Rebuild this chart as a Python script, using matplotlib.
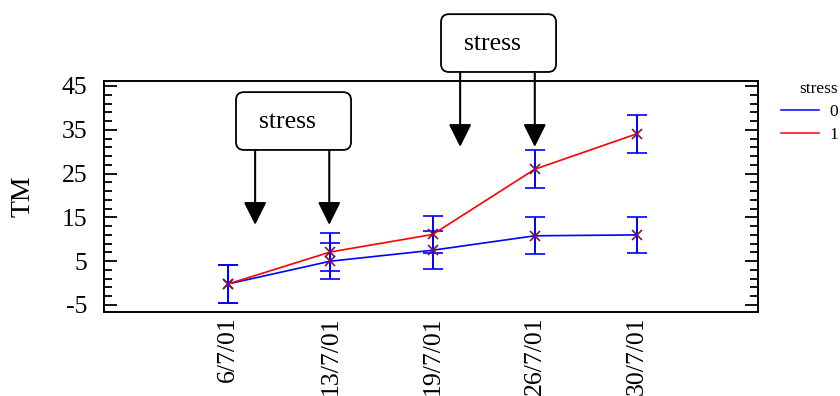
import numpy as np
import matplotlib
matplotlib.use("Agg")
import matplotlib.pyplot as plt
from matplotlib.lines import Line2D
from matplotlib.patches import FancyBboxPatch
from matplotlib.ticker import FixedLocator, MultipleLocator

plt.rcParams['font.family'] = ['Liberation Serif', 'DejaVu Serif']
plt.rcParams['axes.unicode_minus'] = False

# --- datos ---
fechas = ['6/7/01', '13/7/01', '19/7/01', '26/7/01', '30/7/01']
tm_stress0 = [-0.2, 5.0, 7.5, 10.8, 11.0]
err_stress0 = [4.4, 4.1, 4.3, 4.2, 4.2]
tm_stress1 = [-0.2, 7.1, 11.1, 26.0, 34.1]
err_stress1 = [4.4, 4.3, 4.3, 4.3, 4.3]

# cajas "stress": (x0, x1, y0, y1) y las flechas que salen de cada una
cajas = [(1.078, 2.203, 30.4, 43.6), (3.083, 4.208, 48.2, 61.4)]
flechas_x = [[1.265, 1.99], [3.27, 4.0]]
flechas_punta = [13.3, 31.1]

XLIM = (-0.213, 6.183)
YLIM = (-6.6, 46.14)

fig = plt.figure(figsize=(8.4, 3.96), dpi=100)
ax = fig.add_axes([104 / 840, 84 / 396, 654 / 840, 231 / 396])

x = np.arange(1, len(fechas) + 1)
for y, err, col in [(tm_stress0, err_stress0, 'blue'), (tm_stress1, err_stress1, 'red')]:
    ax.errorbar(x, y, yerr=err, color=col, lw=1.2,
                ecolor='blue', elinewidth=1.4, capsize=7.5, capthick=1.4,
                marker='x', ms=7, mec='#7a1450', mew=1.2, zorder=3)

ax.set_xlim(*XLIM)
ax.set_ylim(*YLIM)
ax.set_xticks(x)
ax.set_xticklabels(fechas, rotation=90, fontsize=18.5)
ax.yaxis.set_major_locator(FixedLocator(np.arange(-5, 46, 10)))
ax.yaxis.set_minor_locator(MultipleLocator(2, offset=1))
ax.tick_params(axis='y', which='both', direction='in', left=True, right=True,
               width=1.3, labelsize=18.5, pad=12)
ax.tick_params(axis='y', which='major', length=9.5)
ax.tick_params(axis='y', which='minor', length=5.8)
ax.tick_params(axis='x', length=0, pad=3)
for sp in ax.spines.values():
    sp.set_linewidth(1.4)
ax.set_ylabel('TM', fontsize=20, labelpad=19)

# relacion pixel x / pixel y para redondear las esquinas de las cajas
px_x = ax.bbox.width / (XLIM[1] - XLIM[0])
px_y = ax.bbox.height / (YLIM[1] - YLIM[0])
radio = 8 / px_x

for (x0, x1, y0, y1), xs, punta in zip(cajas, flechas_x, flechas_punta):
    caja = FancyBboxPatch((x0, y0), x1 - x0, y1 - y0,
                          boxstyle=f"round,pad=0,rounding_size={radio}",
                          mutation_aspect=px_x / px_y,
                          fc='white', ec='black', lw=1.3, clip_on=False, zorder=4)
    ax.add_patch(caja)
    ax.text((x0 + x1) / 2 - 6 / px_x, (y0 + y1) / 2 - 1 / px_y, 'stress',
            ha='center', va='center', fontsize=18.5, zorder=5)
    for xf in xs:
        ax.annotate('', xy=(xf, punta), xytext=(xf, y0),
                    arrowprops=dict(arrowstyle='-|>,head_length=1.0,head_width=0.5',
                                    mutation_scale=14, color='black', lw=1.5,
                                    shrinkA=0, shrinkB=0),
                    annotation_clip=False, zorder=4)

handles = [Line2D([], [], color='blue', lw=1.1), Line2D([], [], color='red', lw=1.1)]
fig.legend(handles, ['0', '1'], title='stress', loc='upper left',
           bbox_to_anchor=(781 / 840, 1 - 81 / 396), frameon=False,
           fontsize=12.5, title_fontsize=12.5, handlelength=2.2,
           handletextpad=0.6, labelspacing=0.4, borderaxespad=0,
           borderpad=0, alignment='right')

fig.savefig('out.png', dpi=100)
